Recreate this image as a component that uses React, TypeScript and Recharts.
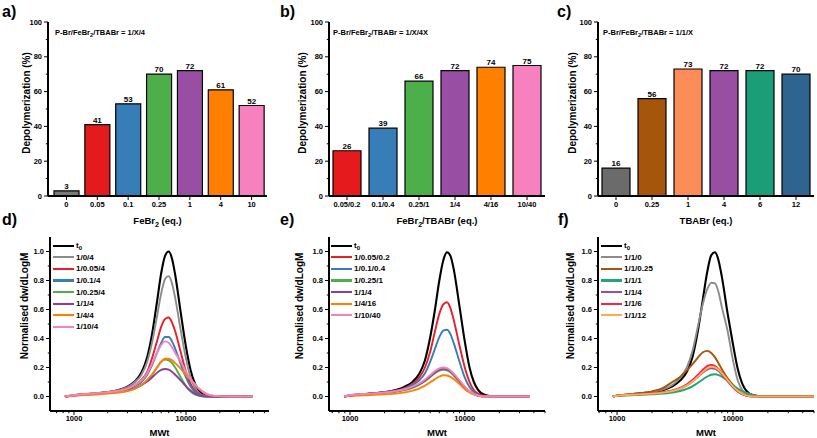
import React from "react";
import { BarChart, Bar, Cell, LabelList, LineChart, Line, XAxis, YAxis } from "recharts";

const FONT = "'Liberation Sans', Arial, Helvetica, sans-serif";

// ---- top row: depolymerization (%) ----
const febrCats = ["0", "0.05", "0.1", "0.25", "1", "4", "10"];
const febrDepoly = [3, 41, 53, 70, 72, 61, 52];
const febrColors = ["#7a7a7a", "#e41a1c", "#377eb8", "#4daf4a", "#984ea3", "#ff7f00", "#f781bf"];

const ratioCats = ["0.05/0.2", "0.1/0.4", "0.25/1", "1/4", "4/16", "10/40"];
const ratioDepoly = [26, 39, 66, 72, 74, 75];
const ratioColors = ["#e41a1c", "#377eb8", "#4daf4a", "#984ea3", "#ff7f00", "#f781bf"];

const tbabCats = ["0", "0.25", "1", "4", "6", "12"];
const tbabDepoly = [16, 56, 73, 72, 72, 70];
const tbabColors = ["#6b6b6b", "#a6560a", "#fc8d59", "#984ea3", "#1b9e77", "#2d6590"];

const depolyTicks = [0, 10, 20, 30, 40, 50, 60, 70, 80, 90, 100];

// ---- bottom row: GPC traces (normalised dw/dLogM vs MW) ----
const mwTicks = [700, 800, 900, 1000, 2000, 3000, 4000, 5000, 6000, 7000, 8000, 9000, 10000, 20000, 30000, 40000, 50000];
const gpcTicks = [0, 0.1, 0.2, 0.3, 0.4, 0.5, 0.6, 0.7, 0.8, 0.9, 1.0];

const mwD = [830, 1000, 1500, 2000, 2500, 3000, 3500, 4000, 4500, 5000, 5500, 6000, 6500, 7000, 7500, 8000, 9000, 10000, 11000, 12000, 13000, 15000, 18000, 25000, 39000];
const dT0 = [0, 0.008, 0.02, 0.03, 0.045, 0.068, 0.105, 0.165, 0.27, 0.44, 0.65, 0.85, 0.97, 1.0, 0.95, 0.84, 0.57, 0.34, 0.18, 0.09, 0.043, 0.008, 0, 0, 0];
const d104 = [0, 0.008, 0.02, 0.03, 0.044, 0.065, 0.1, 0.15, 0.24, 0.38, 0.55, 0.71, 0.81, 0.83, 0.78, 0.68, 0.45, 0.26, 0.13, 0.06, 0.025, 0.004, 0, 0, 0];
const d1005 = [0, 0.008, 0.02, 0.03, 0.04, 0.055, 0.08, 0.115, 0.17, 0.27, 0.38, 0.48, 0.535, 0.545, 0.51, 0.45, 0.3, 0.17, 0.085, 0.04, 0.018, 0.003, 0, 0, 0];
const d101 = [0, 0.008, 0.02, 0.03, 0.04, 0.052, 0.073, 0.1, 0.15, 0.22, 0.3, 0.37, 0.41, 0.41, 0.38, 0.33, 0.22, 0.13, 0.068, 0.033, 0.014, 0.002, 0, 0, 0];
const d1025 = [0, 0.006, 0.016, 0.023, 0.03, 0.04, 0.055, 0.08, 0.11, 0.15, 0.2, 0.24, 0.255, 0.25, 0.23, 0.2, 0.13, 0.07, 0.035, 0.015, 0.006, 0, 0, 0, 0];
const d11 = [0, 0.008, 0.018, 0.025, 0.032, 0.042, 0.058, 0.078, 0.103, 0.133, 0.163, 0.183, 0.19, 0.185, 0.17, 0.15, 0.11, 0.07, 0.04, 0.02, 0.008, 0, 0, 0, 0];
const d14 = [0, 0.005, 0.014, 0.02, 0.028, 0.038, 0.055, 0.08, 0.115, 0.155, 0.2, 0.24, 0.26, 0.26, 0.25, 0.23, 0.19, 0.145, 0.115, 0.085, 0.055, 0.02, 0.004, 0, 0];
const d110 = [0, 0.01, 0.022, 0.03, 0.04, 0.055, 0.08, 0.11, 0.16, 0.23, 0.3, 0.355, 0.38, 0.37, 0.34, 0.3, 0.24, 0.17, 0.12, 0.085, 0.055, 0.02, 0.004, 0, 0];
const dLabels = ["t0", "1/0/4", "1/0.05/4", "1/0.1/4", "1/0.25/4", "1/1/4", "1/4/4", "1/10/4"];
const dColors = ["#000000", "#8c8c8c", "#ee1c25", "#377eb8", "#4daf4a", "#8e3e96", "#ff7f00", "#f781bf"];

const mwE = [890, 1000, 1500, 2000, 2500, 3000, 3500, 4000, 4500, 5000, 5500, 6000, 6500, 7000, 7500, 8000, 9000, 10000, 11000, 12000, 13000, 15000, 18000, 25000, 37000];
const eT0 = [0, 0.006, 0.02, 0.03, 0.045, 0.068, 0.1, 0.155, 0.25, 0.41, 0.6, 0.8, 0.94, 0.995, 0.97, 0.88, 0.62, 0.38, 0.2, 0.1, 0.048, 0.01, 0, 0, 0];
const e005 = [0, 0.006, 0.02, 0.03, 0.04, 0.058, 0.088, 0.13, 0.2, 0.31, 0.45, 0.57, 0.635, 0.65, 0.61, 0.53, 0.35, 0.2, 0.1, 0.045, 0.02, 0.003, 0, 0, 0];
const e01 = [0, 0.006, 0.02, 0.03, 0.04, 0.055, 0.08, 0.11, 0.16, 0.24, 0.33, 0.41, 0.455, 0.46, 0.43, 0.37, 0.24, 0.13, 0.065, 0.03, 0.012, 0.002, 0, 0, 0];
const e025 = [0, 0.008, 0.02, 0.026, 0.033, 0.044, 0.06, 0.08, 0.105, 0.135, 0.16, 0.178, 0.185, 0.18, 0.167, 0.145, 0.1, 0.06, 0.033, 0.016, 0.006, 0, 0, 0, 0];
const e1 = [0, 0.008, 0.02, 0.027, 0.035, 0.047, 0.064, 0.085, 0.11, 0.14, 0.166, 0.184, 0.192, 0.187, 0.173, 0.152, 0.106, 0.065, 0.036, 0.018, 0.007, 0, 0, 0, 0];
const e4 = [0, 0.004, 0.01, 0.015, 0.02, 0.028, 0.04, 0.055, 0.075, 0.098, 0.12, 0.138, 0.147, 0.145, 0.135, 0.12, 0.085, 0.05, 0.028, 0.014, 0.006, 0, 0, 0, 0];
const e10 = [0, 0.01, 0.02, 0.028, 0.036, 0.05, 0.068, 0.09, 0.118, 0.148, 0.176, 0.194, 0.2, 0.195, 0.18, 0.158, 0.112, 0.068, 0.038, 0.019, 0.008, 0, 0, 0, 0];
const eLabels = ["t0", "1/0.05/0.2", "1/0.1/0.4", "1/0.25/1", "1/1/4", "1/4/16", "1/10/40"];
const eColors = ["#000000", "#ee1c25", "#377eb8", "#4daf4a", "#8e3e96", "#ff7f00", "#f781bf"];

const mwF = [920, 1000, 1500, 2000, 2500, 3000, 3500, 4000, 4500, 5000, 5500, 6000, 6500, 7000, 7500, 8000, 9000, 10000, 11000, 12000, 13000, 15000, 18000, 25000, 50000];
const fT0 = [0, 0.005, 0.02, 0.03, 0.045, 0.07, 0.11, 0.17, 0.28, 0.46, 0.67, 0.86, 0.975, 0.995, 0.94, 0.83, 0.57, 0.36, 0.19, 0.09, 0.04, 0.008, 0, 0, 0];
const f0 = [0, 0.005, 0.02, 0.032, 0.05, 0.08, 0.13, 0.2, 0.32, 0.49, 0.64, 0.74, 0.785, 0.78, 0.72, 0.62, 0.45, 0.25, 0.11, 0.045, 0.018, 0.003, 0, 0, 0];
const f025 = [0, 0.006, 0.02, 0.035, 0.06, 0.1, 0.135, 0.18, 0.225, 0.27, 0.305, 0.315, 0.3, 0.27, 0.23, 0.19, 0.125, 0.08, 0.045, 0.022, 0.01, 0.004, 0.003, 0.003, 0.003];
const f1 = [0, 0.004, 0.01, 0.015, 0.02, 0.027, 0.038, 0.053, 0.072, 0.095, 0.118, 0.138, 0.15, 0.153, 0.148, 0.137, 0.11, 0.08, 0.055, 0.038, 0.026, 0.01, 0.002, 0, 0];
const f4 = [0, 0.005, 0.015, 0.021, 0.028, 0.039, 0.055, 0.077, 0.104, 0.135, 0.165, 0.186, 0.195, 0.19, 0.175, 0.152, 0.105, 0.064, 0.035, 0.017, 0.007, 0, 0, 0, 0];
const f6 = [0, 0.005, 0.015, 0.022, 0.03, 0.042, 0.06, 0.085, 0.115, 0.15, 0.185, 0.21, 0.218, 0.21, 0.19, 0.165, 0.11, 0.065, 0.035, 0.017, 0.007, 0, 0, 0, 0];
const f12 = [0, 0.005, 0.014, 0.02, 0.027, 0.038, 0.054, 0.077, 0.105, 0.138, 0.17, 0.193, 0.204, 0.2, 0.185, 0.162, 0.113, 0.07, 0.04, 0.02, 0.008, 0, 0, 0, 0];
const fLabels = ["t0", "1/1/0", "1/1/0.25", "1/1/1", "1/1/4", "1/1/6", "1/1/12"];
const fColors = ["#000000", "#8c8c8c", "#a6560a", "#1fa774", "#984ea3", "#f5224a", "#f9ae4a"];

const tickFont = { fill: "#000", fontSize: 7.5, fontWeight: 700, fontFamily: FONT };
const frame = { stroke: "#000", strokeWidth: 2 };
const TS = 4; // tick length
const TM = 2; // tick label gap

// "FeBr_2" -> FeBr with subscript 2
function svgRich(text: string) {
  const parts = text.split(/_(\d)/);
  const out: any[] = [];
  parts.forEach((p, i) => {
    if (!p) return;
    if (i % 2 === 1) out.push(<tspan key={i} dy={2.5} fontSize="75%">{p}</tspan>);
    else out.push(<tspan key={i} dy={i > 0 ? -2.5 : 0}>{p}</tspan>);
  });
  return out;
}

function htmlRich(text: string) {
  return text.split(/_(\d)/).map((p, i) =>
    i % 2 === 1 ? <sub key={i} style={{ fontSize: "75%", verticalAlign: "-2px", lineHeight: 0 }}>{p}</sub> : <span key={i}>{p}</span>
  );
}

const xTitle = (text: string, off: number) => (props: any) => {
  const vb = props.viewBox;
  return (
    <text x={vb.x + vb.width / 2} y={vb.y + vb.height - off} textAnchor="middle" fontFamily={FONT} fontSize={9.5} fontWeight={700} fill="#000">
      {svgRich(text)}
    </text>
  );
};

const yTitle = (text: string, cx: number, cy: number) => () => (
  <text transform={`translate(${cx},${cy}) rotate(-90)`} textAnchor="middle" dominantBaseline="central" fontFamily={FONT} fontSize={10} fontWeight={700} fill="#000">
    {text}
  </text>
);

// major/minor ticks, Origin style (outward)
const bottomTick = (isMajor: (v: number) => boolean) => (p: any) => {
  const v = p.payload.value;
  const major = isMajor(v);
  const axisY = p.y - TS - 1;
  return (
    <g>
      <line x1={p.x} x2={p.x} y1={axisY} y2={axisY + (major ? TS : 2.2)} stroke="#000" strokeWidth={1} />
      {major && (
        <text x={p.x} y={p.y} dy="0.71em" textAnchor="middle" {...tickFont}>
          {String(v)}
        </text>
      )}
    </g>
  );
};

const leftTick = (isMajor: (v: number) => boolean, fmt: (v: number) => string) => (p: any) => {
  const v = p.payload.value;
  const major = isMajor(v);
  const axisX = p.x + TS + TM;
  return (
    <g>
      <line x1={axisX - (major ? TS : 2.2)} x2={axisX} y1={p.y} y2={p.y} stroke="#000" strokeWidth={1} />
      {major && (
        <text x={p.x} y={p.y} dy="0.355em" textAnchor="end" {...tickFont}>
          {fmt(v)}
        </text>
      )}
    </g>
  );
};

function PanelLetter({ text, left, top }: { text: string; left: number; top: number }) {
  return (
    <div style={{ position: "absolute", left, top, fontFamily: FONT, fontSize: 16, fontWeight: 700, lineHeight: "16px" }}>{text}</div>
  );
}

function DepolyBars(props: any) {
  const { cats, values, colors, width, yW, right, padL, barSize, xLabel, yCx, note, noteLeft } = props;
  const data = cats.map((c: string, i: number) => ({ cat: c, value: values[i] }));
  return (
    <div style={{ position: "absolute", left: props.left, top: 0, width, height: 228 }}>
      <BarChart width={width} height={228} data={data} margin={{ top: 22, right, bottom: 0, left: 0 }} barSize={barSize}>
        <XAxis dataKey="cat" interval={0} height={32} tickSize={TS} tickMargin={TM} tick={tickFont} axisLine={frame} tickLine={{ stroke: "#000" }} padding={{ left: padL, right: 0 }} label={xTitle(xLabel, 4)} />
        <XAxis xAxisId="top" dataKey="cat" orientation="top" height={0} tick={false} tickLine={false} axisLine={frame} />
        <YAxis
          type="number"
          domain={[0, 100]}
          ticks={depolyTicks}
          interval={0}
          width={yW}
          tickSize={TS}
          tickMargin={TM}
          tickLine={false}
          tick={leftTick((v) => v % 20 === 0, (v) => String(v))}
          axisLine={frame}
          label={yTitle("Depolymerization (%)", yCx, 103)}
        />
        <YAxis yAxisId="right" orientation="right" width={0} domain={[0, 100]} tick={false} tickLine={false} axisLine={frame} />
        <Bar dataKey="value" stroke="#000" strokeWidth={1.2} isAnimationActive={false}>
          {data.map((d: any, i: number) => (
            <Cell key={d.cat} fill={colors[i]} />
          ))}
          <LabelList dataKey="value" position="top" offset={2} fill="#000" fontSize={8} fontWeight={700} fontFamily={FONT} />
        </Bar>
      </BarChart>
      <div style={{ position: "absolute", left: noteLeft, top: 28, fontFamily: FONT, fontSize: 7.5, fontWeight: 700, lineHeight: "10px", whiteSpace: "nowrap" }}>
        {htmlRich(note)}
      </div>
    </div>
  );
}

function GpcPanel(props: any) {
  const { mw, series, labels, colors, width, yW, right, domain, yCx, legendLeft } = props;
  const data = mw.map((m: number, i: number) => {
    const row: any = { mw: m };
    series.forEach((s: number[], k: number) => {
      row["s" + k] = s[i];
    });
    return row;
  });
  const ticks = mwTicks.filter((t) => t >= domain[0] && t <= domain[1]);
  return (
    <div style={{ position: "absolute", left: props.left, top: 215, width, height: 223 }}>
      <LineChart width={width} height={223} data={data} margin={{ top: 22, right, bottom: 0, left: 0 }}>
        <XAxis
          dataKey="mw"
          type="number"
          scale="log"
          domain={domain}
          allowDataOverflow
          ticks={ticks}
          interval={0}
          height={27}
          tickSize={TS}
          tickMargin={1}
          tickLine={false}
          tick={bottomTick((v) => v === 1000 || v === 10000)}
          axisLine={frame}
          label={xTitle("MWt", 2)}
        />
        <XAxis xAxisId="top" dataKey="mw" type="number" scale="log" domain={domain} allowDataOverflow orientation="top" height={0} tick={false} tickLine={false} axisLine={frame} />
        <YAxis
          type="number"
          domain={[-0.1, 1.1]}
          allowDataOverflow
          ticks={gpcTicks}
          interval={0}
          width={yW}
          tickSize={TS}
          tickMargin={TM}
          tickLine={false}
          tick={leftTick((v) => Math.round(v * 10) % 2 === 0, (v) => v.toFixed(1))}
          axisLine={frame}
          label={yTitle("Normalised dw/dLogM", yCx, 91)}
        />
        <YAxis yAxisId="right" orientation="right" width={0} domain={[0, 1]} tick={false} tickLine={false} axisLine={frame} />
        {series.map((_: number[], k: number) => (
          <Line key={k} dataKey={"s" + k} name={labels[k]} type="monotone" stroke={colors[k]} strokeWidth={k === 0 ? 2.1 : 1.9} dot={false} activeDot={false} isAnimationActive={false} />
        ))}
      </LineChart>
      <div style={{ position: "absolute", left: legendLeft, top: 25, fontFamily: FONT, fontSize: 8, fontWeight: 700 }}>
        {labels.map((l: string, k: number) => (
          <div key={l} style={{ display: "flex", alignItems: "center", height: 11.6 }}>
            <span style={{ display: "inline-block", width: 21, height: 2.2, background: colors[k], marginRight: 2 }} />
            <span>{l === "t0" ? <>t<sub style={{ fontSize: "75%", verticalAlign: "-2px", lineHeight: 0 }}>0</sub></> : l}</span>
          </div>
        ))}
      </div>
    </div>
  );
}

export default function App() {
  return (
    <div style={{ position: "absolute", left: 0, top: 0, width: 817, height: 438, background: "#fff", overflow: "hidden" }}>
      <DepolyBars left={0} width={272} yW={48} right={5} padL={3} barSize={25} cats={febrCats} values={febrDepoly} colors={febrColors} xLabel="FeBr_2 (eq.)" yCx={26} note="P-Br/FeBr_2/TBABr = 1/X/4" noteLeft={55} />
      <DepolyBars left={272} width={274} yW={57} right={1} padL={0} barSize={28} cats={ratioCats} values={ratioDepoly} colors={ratioColors} xLabel="FeBr_2/TBABr (eq.)" yCx={30} note="P-Br/FeBr_2/TBABr = 1/X/4X" noteLeft={61} />
      <DepolyBars left={545} width={272} yW={53} right={3} padL={0} barSize={28} cats={tbabCats} values={tbabDepoly} colors={tbabColors} xLabel="TBABr (eq.)" yCx={27} note="P-Br/FeBr_2/TBABr = 1/1/X" noteLeft={58} />

      <GpcPanel left={0} width={272} yW={50} right={3} domain={[611, 55000]} mw={mwD} series={[dT0, d104, d1005, d101, d1025, d11, d14, d110]} labels={dLabels} colors={dColors} yCx={24} legendLeft={53} />
      <GpcPanel left={272} width={274} yW={57} right={1} domain={[656, 50000]} mw={mwE} series={[eT0, e005, e01, e025, e1, e4, e10]} labels={eLabels} colors={eColors} yCx={27} legendLeft={59} />
      <GpcPanel left={545} width={272} yW={53} right={3} domain={[685, 50000]} mw={mwF} series={[fT0, f0, f025, f1, f4, f6, f12]} labels={fLabels} colors={fColors} yCx={25} legendLeft={56} />

      <PanelLetter text="a)" left={2} top={4} />
      <PanelLetter text="b)" left={280} top={4} />
      <PanelLetter text="c)" left={557} top={4} />
      <PanelLetter text="d)" left={2} top={212} />
      <PanelLetter text="e)" left={280} top={212} />
      <PanelLetter text="f)" left={558} top={212} />
    </div>
  );
}
